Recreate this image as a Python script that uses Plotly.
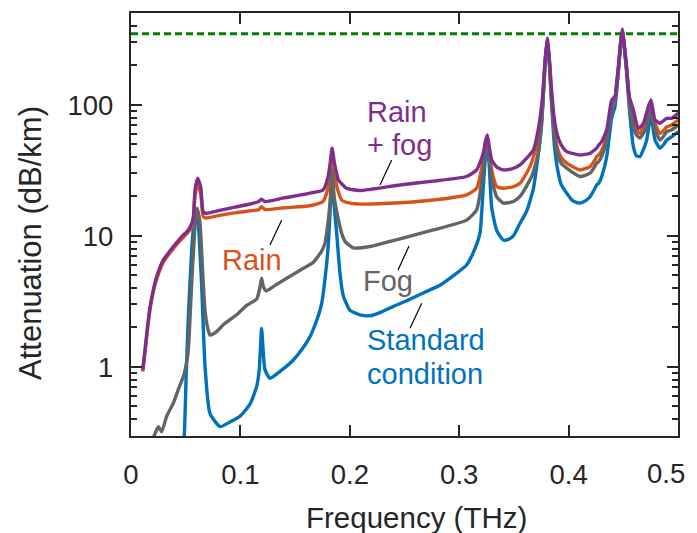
import plotly.graph_objects as go
import math

# ---------------- data ----------------
freq_std = [0.0470, 0.0487, 0.0505, 0.0524, 0.0555, 0.0585, 0.0605, 0.0620, 0.0645, 0.0677, 0.0722,
            0.0814, 0.0905, 0.0996, 0.1088, 0.1149, 0.1172, 0.1194, 0.1210, 0.1225, 0.1270, 0.1380,
            0.1484, 0.1560, 0.1636, 0.1700, 0.1743, 0.1789, 0.1805, 0.1819, 0.1838, 0.1857, 0.1880,
            0.1910, 0.1940, 0.2002, 0.2093, 0.2185, 0.2276, 0.2400, 0.2520, 0.2680, 0.2824, 0.2950,
            0.3068, 0.3144, 0.3190, 0.3220, 0.3240, 0.3257, 0.3274, 0.3297, 0.3343, 0.3403, 0.3450,
            0.3495, 0.3556, 0.3617, 0.3678, 0.3723, 0.3754, 0.3769, 0.3784, 0.3805, 0.3826, 0.3841,
            0.3856, 0.3871, 0.3900, 0.3930, 0.3983, 0.4040, 0.4104, 0.4160, 0.4196, 0.4240, 0.4257,
            0.4275, 0.4300, 0.4348, 0.4394, 0.4424, 0.4440, 0.4456, 0.4475, 0.4491, 0.4507, 0.4530,
            0.4555, 0.4592, 0.4620, 0.4652, 0.4690, 0.4714, 0.4735, 0.4753, 0.4770, 0.4790, 0.4835,
            0.4870, 0.4897, 0.4942, 0.5003]
att_std = [0.22, 0.30, 0.9, 2.4, 7.8, 14.9, 15.8, 11.0, 4.35, 1.0, 0.44,
           0.35, 0.38, 0.42, 0.52, 0.71, 0.95, 1.97, 1.25, 0.95, 0.82, 0.95,
           1.13, 1.35, 1.7, 2.3, 3.06, 6.2, 9.0, 14.9, 30, 17, 10.5,
           5.2, 3.5, 2.7, 2.5, 2.46, 2.6, 2.9, 3.2, 3.7, 4.2, 5.0,
           6.0, 8.0, 10.5, 23.8, 40, 50, 35, 16.5, 11.0, 9.3, 9.4,
           10.0, 12.5, 15.5, 23, 42, 72, 118, 195, 312, 195, 115,
           72, 48, 32, 25, 21.2, 18.5, 17.8, 18.7, 19.9, 23, 24.5,
           25.2, 28, 40, 80, 97, 130, 180, 285, 368, 285, 178,
           95, 48, 41, 40.3, 47, 54, 70, 86, 68, 54, 46.7,
           50, 54, 57, 62.5]

freq_fog = [0.0190, 0.0220, 0.0250, 0.0280, 0.0326, 0.0387, 0.0440, 0.0478, 0.0510, 0.0524, 0.0555,
            0.0585, 0.0605, 0.0631, 0.0645, 0.0660, 0.0676, 0.0700, 0.0722, 0.0780, 0.0844, 0.0966,
            0.1058, 0.1149, 0.1175, 0.1194, 0.1210, 0.1235, 0.1300, 0.1423, 0.1550, 0.1667, 0.1740,
            0.1773, 0.1800, 0.1819, 0.1838, 0.1857, 0.1880, 0.1925, 0.1960, 0.2032, 0.2185, 0.2459,
            0.2763, 0.3068, 0.3160, 0.3220, 0.3240, 0.3257, 0.3274, 0.3297, 0.3343, 0.3403, 0.3495,
            0.3556, 0.3662, 0.3723, 0.3754, 0.3769, 0.3784, 0.3805, 0.3826, 0.3841, 0.3856, 0.3871,
            0.3900, 0.3930, 0.3983, 0.4104, 0.4196, 0.4240, 0.4257, 0.4275, 0.4300, 0.4348, 0.4394,
            0.4424, 0.4440, 0.4456, 0.4475, 0.4491, 0.4507, 0.4530, 0.4555, 0.4592, 0.4620, 0.4652,
            0.4690, 0.4714, 0.4735, 0.4753, 0.4770, 0.4790, 0.4835, 0.4870, 0.4897, 0.4942, 0.5003]
att_fog = [0.27, 0.31, 0.35, 0.32, 0.42, 0.53, 0.70, 0.84, 1.1, 1.35, 4.35,
           11.8, 16.3, 12.5, 7.8, 4.5, 2.72, 2.0, 1.75, 1.85, 2.1, 2.5,
           2.95, 3.3, 3.9, 4.75, 4.1, 3.8, 4.1, 4.75, 5.5, 6.3, 7.6,
           8.8, 12.5, 17.8, 32, 20, 15.5, 10.5, 9.0, 8.1, 8.3, 9.5,
           11.1, 13.2, 15.8, 31.9, 45, 53, 40, 26.8, 19.9, 17.8, 18.3,
           20, 28.4, 42.8, 76, 120, 200, 318, 200, 120, 80, 58,
           42, 36, 32.9, 28.4, 30.1, 34, 35.9, 37, 40, 54, 90,
           109, 140, 190, 290, 372, 290, 185, 105, 68, 59, 55.7,
           62, 68, 82, 97, 78, 64.4, 54, 58, 62.5, 64.4, 70.3]

freq_rain = [0.0107, 0.0128, 0.0150, 0.0174, 0.0205, 0.0235, 0.0296, 0.0387, 0.0460, 0.0524, 0.0555,
             0.0570, 0.0585, 0.0609, 0.0637, 0.0660, 0.0686, 0.0800, 0.0950, 0.1100, 0.1164, 0.1194,
             0.1225, 0.1400, 0.1636, 0.1755, 0.1800, 0.1819, 0.1838, 0.1857, 0.1880, 0.1925, 0.1970,
             0.2093, 0.2459, 0.2763, 0.3068, 0.3160, 0.3220, 0.3240, 0.3257, 0.3274, 0.3297, 0.3343,
             0.3403, 0.3495, 0.3556, 0.3647, 0.3708, 0.3723, 0.3754, 0.3769, 0.3784, 0.3805, 0.3826,
             0.3841, 0.3856, 0.3871, 0.3900, 0.3930, 0.3983, 0.4104, 0.4196, 0.4240, 0.4257, 0.4275,
             0.4300, 0.4348, 0.4394, 0.4424, 0.4440, 0.4456, 0.4475, 0.4491, 0.4507, 0.4530, 0.4555,
             0.4592, 0.4620, 0.4652, 0.4690, 0.4714, 0.4735, 0.4753, 0.4770, 0.4790, 0.4835, 0.4870,
             0.4897, 0.4942, 0.5003]
att_rain = [0.92, 1.3, 1.9, 2.75, 3.8, 4.7, 6.3, 8.0, 9.4, 10.7, 11.8,
            13.0, 20, 25, 21, 14.0, 13.7, 14.3, 15.0, 15.6, 15.8, 16.7,
            15.9, 16.4, 17.0, 18.3, 23, 30, 44, 32, 24, 18.8, 18.0,
            17.5, 17.9, 18.8, 20.6, 23.1, 38, 50, 56, 45, 31.9, 23.8,
            23.1, 23.8, 25.2, 33.8, 48, 52, 82, 126, 205, 320, 205,
            125, 85, 62, 46, 40, 35.9, 31.9, 33.8, 38, 40.3, 41.5,
            44.5, 57.3, 102, 112, 145, 195, 295, 375, 295, 190, 110,
            76.8, 65, 60.5, 70, 76.8, 88, 102, 85, 72.4, 60.5, 64,
            68, 70.3, 76.8]

freq_rainfog = [0.0107, 0.0128, 0.0150, 0.0174, 0.0205, 0.0235, 0.0296, 0.0387, 0.0460, 0.0524, 0.0555,
                0.0570, 0.0585, 0.0609, 0.0637, 0.0660, 0.0686, 0.0800, 0.0950, 0.1100, 0.1164, 0.1194,
                0.1225, 0.1400, 0.1636, 0.1755, 0.1800, 0.1819, 0.1838, 0.1857, 0.1880, 0.1895, 0.1970,
                0.2093, 0.2459, 0.2763, 0.3068, 0.3160, 0.3220, 0.3240, 0.3257, 0.3274, 0.3297, 0.3343,
                0.3403, 0.3480, 0.3556, 0.3678, 0.3723, 0.3754, 0.3769, 0.3784, 0.3805, 0.3826, 0.3841,
                0.3856, 0.3871, 0.3900, 0.3930, 0.3983, 0.4104, 0.4196, 0.4240, 0.4257, 0.4275, 0.4300,
                0.4348, 0.4394, 0.4424, 0.4440, 0.4456, 0.4475, 0.4491, 0.4507, 0.4530, 0.4555, 0.4592,
                0.4637, 0.4683, 0.4729, 0.4753, 0.4770, 0.4790, 0.4835, 0.4897, 0.4942, 0.5003]
att_rainfog = [0.95, 1.35, 2.0, 2.87, 3.9, 4.9, 6.56, 8.3, 9.8, 11.1, 12.5,
               14.0, 22.4, 27.6, 23.7, 15.3, 14.9, 15.6, 16.6, 17.6, 18.2, 19.1,
               18.3, 19.5, 21.2, 22.4, 28, 35, 46.7, 37, 30, 26.8, 23.1,
               22.2, 24.5, 26.2, 28.4, 31.9, 42.8, 53, 59, 48, 38, 33.5,
               31.9, 32.5, 34.8, 45.3, 65, 100, 140, 215, 323, 215, 140,
               100, 76, 58, 50, 44, 41.5, 42.7, 45.5, 46.7, 49.4, 52,
               64.4, 109, 116, 150, 200, 300, 380, 300, 196, 116, 91.5,
               66, 72, 97, 109, 92, 76.8, 72.4, 79, 79, 86.5]

limit_freq = [0.0, 0.5]
limit_att = [350, 350]

x_ticks = [0, 0.1, 0.2, 0.3, 0.4, 0.5]
x_ticklabels = ["0", "0.1", "0.2", "0.3", "0.4", ""]
x_last_label = "0.5"
y_ticks = [1, 10, 100]
y_ticklabels = ["1", "10", "100"]
y_minor = [0.3, 0.4, 0.5, 0.6, 0.7, 0.8, 0.9, 2, 3, 4, 5, 6, 7, 8, 9,
           20, 30, 40, 50, 60, 70, 80, 90, 200, 300, 400, 500]

# ---------------- styling ----------------
C_STD = "#0072BD"
C_RAIN = "#D95319"
C_FOG = "#646464"
C_RF = "#7E2F8E"
C_LIM = "#008000"
C_AX = "#262626"
FONT = "Liberation Sans, Arial, sans-serif"

W, H = 697, 533
L, R, T, B = 131, 678, 13, 436  # plot area in pixels


def px(X):
    return (X - L) / (R - L)


def py(Y):
    return (B - Y) / (B - T)


LW = 3.4
SHAPE = dict(shape="spline", smoothing=0.5)
fig = go.Figure()
fig.add_trace(go.Scatter(x=limit_freq, y=limit_att, mode="lines",
                         line=dict(color=C_LIM, width=3, dash="7px,4px"), hoverinfo="skip"))
fig.add_trace(go.Scatter(x=freq_std, y=att_std, mode="lines", line=dict(color=C_STD, width=LW, **SHAPE)))
fig.add_trace(go.Scatter(x=freq_rain, y=att_rain, mode="lines", line=dict(color=C_RAIN, width=LW, **SHAPE)))
fig.add_trace(go.Scatter(x=freq_fog, y=att_fog, mode="lines", line=dict(color=C_FOG, width=LW, **SHAPE)))
fig.add_trace(go.Scatter(x=freq_rainfog, y=att_rainfog, mode="lines", line=dict(color=C_RF, width=LW, **SHAPE)))

TICKFONT = dict(family=FONT, size=27.5, color=C_AX)
axis_common = dict(showgrid=False, zeroline=False, showline=True, linecolor=C_AX, linewidth=2.2,
                   mirror="ticks", ticks="inside", tickcolor=C_AX, tickwidth=1.8, ticklen=11,
                   automargin=False, tickfont=TICKFONT)

fig.update_xaxes(range=[0, 0.5], tickmode="array", tickvals=x_ticks, ticktext=x_ticklabels,
                 ticklabelstandoff=13, **axis_common)
fig.update_yaxes(type="log", range=[math.log10(0.297), math.log10(503)], tickmode="array",
                 tickvals=y_ticks, ticktext=y_ticklabels, ticklabelstandoff=10,
                 minor=dict(tickmode="array", tickvals=y_minor, ticks="inside", ticklen=6,
                            tickwidth=1.5, tickcolor=C_AX),
                 **axis_common)

annots = []


def txt(text, X, Y, color, xanchor="center", size=29):
    annots.append(dict(text=text, x=px(X), y=py(Y), xref="paper", yref="paper", showarrow=False,
                       xanchor=xanchor, yanchor="middle", font=dict(family=FONT, size=size, color=color)))


txt("Rain", 365, 112, C_RF, xanchor="left")
txt("+ fog", 365, 145, C_RF, xanchor="left")
txt("Rain", 252, 260, C_RAIN)
txt("Fog", 388, 281, C_FOG)
txt("Standard", 365, 340, C_STD, xanchor="left")
txt("condition", 365, 374, C_STD, xanchor="left")
txt("Frequency (THz)", 416, 517, C_AX, size=29.5)
txt(x_last_label, 666, 474, C_AX, size=27.5)
annots.append(dict(text="Attenuation (dB/km)", x=px(30), y=py(243), xref="paper", yref="paper",
                   showarrow=False, textangle=-90, xanchor="center", yanchor="middle",
                   font=dict(family=FONT, size=31, color=C_AX)))

leaders = [((391.7, 160), (380, 185)), ((281.7, 220), (270, 245)),
           ((409, 246), (398, 270)), ((421.7, 303.3), (410, 328.3))]
shapes = [dict(type="line", xref="paper", yref="paper", x0=px(a[0]), y0=py(a[1]), x1=px(b[0]), y1=py(b[1]),
               line=dict(color="black", width=1.2)) for a, b in leaders]

fig.update_layout(width=W, height=H, margin=dict(l=L, r=W - R, t=T, b=H - B),
                  paper_bgcolor="white", plot_bgcolor="white", showlegend=False,
                  annotations=annots, shapes=shapes)

fig.write_html("out.html")
